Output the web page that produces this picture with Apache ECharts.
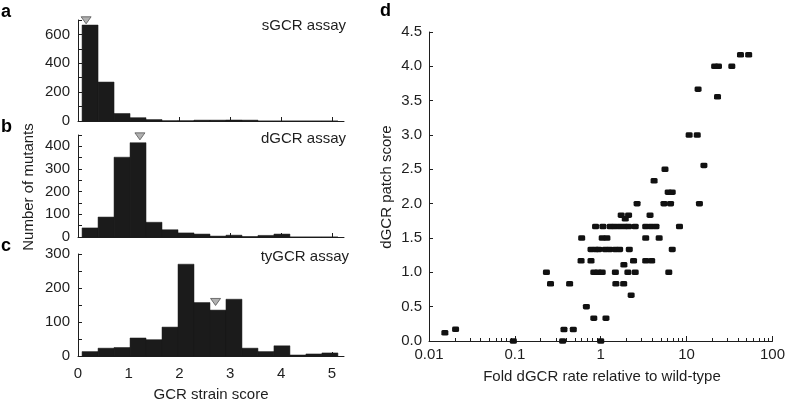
<!DOCTYPE html>
<html><head><meta charset="utf-8">
<script src="https://cdn.jsdelivr.net/npm/echarts@6/dist/echarts.min.js"></script>
<style>html,body{margin:0;padding:0;background:#fff}#c{width:788px;height:405px}</style>
</head><body><div id="c"></div>
<script>
// ---- data ----
const binEdges = [0.08, 0.395, 0.71, 1.025, 1.34, 1.655, 1.97, 2.285, 2.6, 2.915, 3.23, 3.545, 3.86, 4.175, 4.49, 4.805, 5.12];
const sgcrCounts = [665, 270, 52, 23, 10, 2, 2, 6, 6, 7, 6, 0, 0, 0, 0, 0];
const dgcrCounts = [40, 88, 352, 416, 65, 32, 18, 13, 4, 8, 2, 7, 13, 0, 0, 0];
const tygcrCounts = [13, 23, 25, 53, 48, 85, 270, 157, 135, 167, 23, 13, 30, 3, 6, 9];
const assayNames = ['sGCR assay', 'dGCR assay', 'tyGCR assay'];
const panelLetters = ['a', 'b', 'c', 'd'];
const modeX = [0.16, 1.22, 2.71];
const modeY = [698, 444, 159];
const histXTicks = [0, 1, 2, 3, 4, 5];
const histYMax = [700, 450, 300];
const histYStep = [100, 50, 50];
const histYLabelStep = [200, 100, 100];

const foldRate = [0.0153, 0.0204, 0.096, 0.36, 1.0, 0.373, 0.479, 0.83, 1.15, 0.68, 2.26,
  0.26, 0.434, 1.50, 1.85,
  0.233, 0.83, 0.93, 1.04, 1.48, 2.07, 2.52, 6.2,
  1.86,
  0.59, 0.77, 2.41, 3.34, 3.92,
  0.77, 0.87, 0.95, 1.13, 1.27, 1.48, 1.66, 2.15, 6.8,
  0.6, 1.04, 1.18, 3.34, 4.79,
  0.87, 1.06, 1.29, 1.45, 1.66, 1.89, 2.11, 2.52, 3.34, 3.85, 4.4, 8.26,
  1.73, 2.11, 3.75, 1.93,
  2.65, 5.45, 6.5, 14.1,
  6.1, 6.8,
  4.18, 5.6, 15.9,
  10.7, 13.3, 22.9, 13.6,
  21.2, 23.5, 33.6, 42.4, 52.8];
const patchScore = [0.12, 0.17, 0, 0, 0, 0.167, 0.167, 0.333, 0.333, 0.5, 0.667,
  0.833, 0.833, 0.833, 0.833,
  1.0, 1.0, 1.0, 1.0, 1.0, 1.0, 1.0, 1.0,
  1.11,
  1.167, 1.167, 1.167, 1.167, 1.167,
  1.333, 1.333, 1.333, 1.333, 1.333, 1.333, 1.333, 1.333, 1.333,
  1.5, 1.5, 1.5, 1.5, 1.5,
  1.667, 1.667, 1.667, 1.667, 1.667, 1.667, 1.667, 1.667, 1.667, 1.667, 1.667, 1.667,
  1.833, 1.833, 1.833, 1.78,
  2.0, 2.0, 2.0, 2.0,
  2.167, 2.167,
  2.333, 2.5, 2.556,
  3.0, 3.0, 3.556, 3.667,
  4.0, 4.0, 4.0, 4.167, 4.167];
const logMajorTicks = [0.01, 0.1, 1, 10, 100];
const logMinorTicks = [0.02, 0.03, 0.04, 0.05, 0.06, 0.07, 0.08, 0.09,
  0.2, 0.3, 0.4, 0.5, 0.6, 0.7, 0.8, 0.9,
  2, 3, 4, 5, 6, 7, 8, 9,
  20, 30, 40, 50, 60, 70, 80, 90];

// ---- chart ----
const FONT = "'Liberation Sans', Arial, sans-serif";
const INK = '#1e1e1e';
const histData = [sgcrCounts, dgcrCounts, tygcrCounts];
const gridTops = [20, 135, 254];
const gridH = [101, 102, 102];

const grids = [], xAxes = [], yAxes = [], series = [];
for (let i = 0; i < 3; i++) {
  grids.push({left: 78, top: gridTops[i], width: 266, height: gridH[i], containLabel: false});
  xAxes.push({type: 'value', gridIndex: i, min: 0, max: 5.24,
    axisLine: {show: true, onZero: false, lineStyle: {color: INK, width: 1}},
    axisTick: {show: true, inside: true, length: 4, customValues: histXTicks, lineStyle: {color: INK}},
    axisLabel: {show: i === 2, customValues: histXTicks, fontSize: 15, fontFamily: FONT, color: INK, margin: 10},
    splitLine: {show: false}});
  const step = histYLabelStep[i];
  yAxes.push({type: 'value', gridIndex: i, min: 0, max: histYMax[i], interval: histYStep[i],
    axisLine: {show: true, lineStyle: {color: INK, width: 1}},
    axisTick: {show: true, inside: true, length: 4, lineStyle: {color: INK}},
    axisLabel: {fontSize: 15, fontFamily: FONT, color: INK, margin: 8,
      formatter: v => (Math.round(v) % step === 0 && (i !== 0 || v <= 600)) ? String(Math.round(v)) : ''},
    splitLine: {show: false}});
  const rows = histData[i].map((c, k) => [binEdges[k], binEdges[k + 1], c]);
  series.push({type: 'custom', xAxisIndex: i, yAxisIndex: i, data: rows, encode: {x: [0, 1], y: 2},
    renderItem: (params, api) => {
      const p0 = api.coord([api.value(0), api.value(2)]);
      const p1 = api.coord([api.value(1), 0]);
      return {type: 'rect', shape: {x: p0[0], y: p0[1], width: p1[0] - p0[0], height: p1[1] - p0[1]},
        style: {fill: '#1b1b1b', stroke: '#1b1b1b', lineWidth: 0.5}};
    }, silent: true});
  series.push({type: 'scatter', xAxisIndex: i, yAxisIndex: i, clip: false, symbol: 'triangle', symbolRotate: 180,
    symbolSize: [10, 7], data: [[modeX[i], modeY[i]]],
    itemStyle: {color: '#b0b0b0', borderColor: '#555', borderWidth: 0.8, opacity: 1}, z: 5, silent: true});
}

// right panel
grids.push({left: 429, top: 32, width: 346, height: 309, containLabel: false});
xAxes.push({type: 'log', gridIndex: 3, logBase: 10, min: 0.01, max: 100, position: 'bottom',
  axisLine: {show: true, onZero: false, lineStyle: {color: INK, width: 1}},
  axisTick: {show: true, inside: true, length: 5, customValues: logMajorTicks, lineStyle: {color: INK}},
  axisLabel: {fontSize: 15, fontFamily: FONT, color: INK, margin: 6, customValues: logMajorTicks,
    formatter: v => String(parseFloat(Number(v).toPrecision(6)))},
  splitLine: {show: false}});
xAxes.push({type: 'log', gridIndex: 3, logBase: 10, min: 0.01, max: 100, position: 'bottom', offset: 0,
  axisLine: {show: false},
  axisTick: {show: true, inside: true, length: 3, customValues: logMinorTicks, lineStyle: {color: INK}},
  axisLabel: {show: false},
  splitLine: {show: false}});
yAxes.push({type: 'value', gridIndex: 3, min: 0, max: 4.5, interval: 0.5,
  axisLine: {show: true, lineStyle: {color: INK, width: 1}},
  axisTick: {show: true, inside: true, length: 4, lineStyle: {color: INK}},
  axisLabel: {fontSize: 15, fontFamily: FONT, color: INK, margin: 7, formatter: v => Number(v).toFixed(1)},
  splitLine: {show: false}});
series.push({type: 'scatter', xAxisIndex: 3, yAxisIndex: 3, clip: false, symbol: 'roundRect', symbolSize: [7, 5.5],
  data: foldRate.map((x, k) => [x, patchScore[k]]),
  itemStyle: {color: '#111', opacity: 1}, silent: true});

const txt = (x, y, s, opts) => Object.assign({type: 'text', x: x, y: y,
  style: Object.assign({text: s, font: '15px ' + FONT, fill: INK, align: 'center', verticalAlign: 'middle'}, opts || {})});
const graphic = [
  txt(346, 26, assayNames[0], {align: 'right'}),
  txt(346, 139, assayNames[1], {align: 'right'}),
  txt(349, 257, assayNames[2], {align: 'right'}),
  txt(1, 12, panelLetters[0], {align: 'left', font: 'bold 18px ' + FONT, fill: '#000'}),
  txt(1, 127, panelLetters[1], {align: 'left', font: 'bold 18px ' + FONT, fill: '#000'}),
  txt(1, 246, panelLetters[2], {align: 'left', font: 'bold 18px ' + FONT, fill: '#000'}),
  txt(380, 11, panelLetters[3], {align: 'left', font: 'bold 18px ' + FONT, fill: '#000'}),
  txt(211, 395, 'GCR strain score'),
  txt(602, 377, 'Fold dGCR rate relative to wild-type'),
  Object.assign(txt(0, 0, 'Number of mutants'), {x: 29, y: 187, rotation: Math.PI / 2}),
  Object.assign(txt(0, 0, 'dGCR patch score'), {x: 387, y: 187, rotation: Math.PI / 2})
];

const chart = echarts.init(document.getElementById('c'), null, {renderer: 'canvas'});
chart.setOption({animation: false, backgroundColor: '#fff', grid: grids, xAxis: xAxes, yAxis: yAxes, series: series, graphic: graphic});
</script></body></html>
